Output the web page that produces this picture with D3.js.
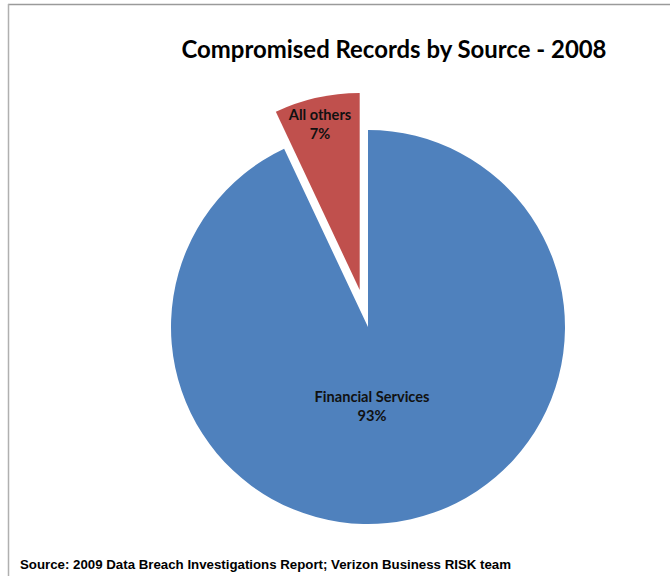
<!DOCTYPE html>
<html>
<head>
<meta charset="utf-8">
<script src="https://cdn.jsdelivr.net/npm/d3@7"></script>
<style>
  body { margin: 0; background: #fff; }
  svg { display: block; }
</style>
</head>
<body>
<div id="chart"></div>
<script>
// pie chart for compromised records by source

// data
const categories = ["Financial Services", "All others"];
const shares = [93, 7];
const explode = [0, 38]; // pull-out distance for each slice

const w = 670, h = 576;
const center = { x: 368, y: 327 };
const radius = 197;
const colors = ["#4F81BD", "#C0504D"];

const svg = d3.select("#chart")
	.append("svg")
	.attr("width", w)
	.attr("height", h);

// chart area border (top and left edges visible)
svg.append("line")
	.attr("x1", 8).attr("y1", 4.5).attr("x2", w).attr("y2", 4.5)
	.attr("stroke", "#9a9a9a").attr("stroke-width", 1.5);
svg.append("line")
	.attr("x1", 8.5).attr("y1", 4).attr("x2", 8.5).attr("y2", h)
	.attr("stroke", "#b0b0b0").attr("stroke-width", 1.5);

// title
svg.append("text")
	.attr("x", 394)
	.attr("y", 58)
	.attr("text-anchor", "middle")
	.attr("textLength", 425)
	.attr("lengthAdjust", "spacingAndGlyphs")
	.style("font-family", "Lato, 'Open Sans', sans-serif")
	.style("font-weight", "bold")
	.style("font-size", "25px")
	.style("fill", "#000")
	.text("Compromised Records by Source - 2008");

const data = categories.map((c, i) => ({ name: c, value: shares[i], off: explode[i] }));

const pie = d3.pie()
	.sort(null)
	.value(d => d.value)
	.startAngle(0)
	.endAngle(2 * Math.PI);

const arc = d3.arc()
	.innerRadius(0)
	.outerRadius(radius);

const arcs = pie(data);

const g = svg.append("g")
	.attr("transform", `translate(${center.x},${center.y})`);

// slices, each pushed out along its mid angle
const slice = g.selectAll("g.slice")
	.data(arcs)
	.join("g")
		.attr("class", "slice")
		.attr("transform", d => {
			const a = (d.startAngle + d.endAngle) / 2;
			return `translate(${Math.sin(a) * d.data.off},${-Math.cos(a) * d.data.off})`;
		});

slice.append("path")
	.attr("d", arc)
	.attr("fill", (d, i) => colors[i]);

// data labels
const labelPos = [
	{ x: 372 - center.x, y: 402 - center.y },
	{ x: 320 - center.x, y: 120 - center.y }
];

const labels = g.selectAll("text.lbl")
	.data(arcs)
	.join("text")
		.attr("class", "lbl")
		.attr("text-anchor", "middle")
		.attr("x", (d, i) => labelPos[i].x)
		.attr("y", (d, i) => labelPos[i].y)
		.style("font-family", "Lato, 'Open Sans', sans-serif")
		.style("font-size", "14.6px")
		.style("font-weight", "bold")
		.style("fill", "#111");

labels.append("tspan")
	.attr("x", (d, i) => labelPos[i].x)
	.text(d => d.data.name);

labels.append("tspan")
	.attr("x", (d, i) => labelPos[i].x)
	.attr("dy", 19)
	.text(d => d.data.value + "%");

// source note
svg.append("text")
	.attr("x", 20)
	.attr("y", 569)
	.attr("textLength", 491)
	.attr("lengthAdjust", "spacingAndGlyphs")
	.style("font-family", "'Liberation Sans Narrow', 'Liberation Sans', Arial, sans-serif")
	.style("font-weight", "bold")
	.style("font-size", "12.5px")
	.style("fill", "#000")
	.text("Source: 2009 Data Breach Investigations Report; Verizon Business RISK team");
</script>
</body>
</html>
